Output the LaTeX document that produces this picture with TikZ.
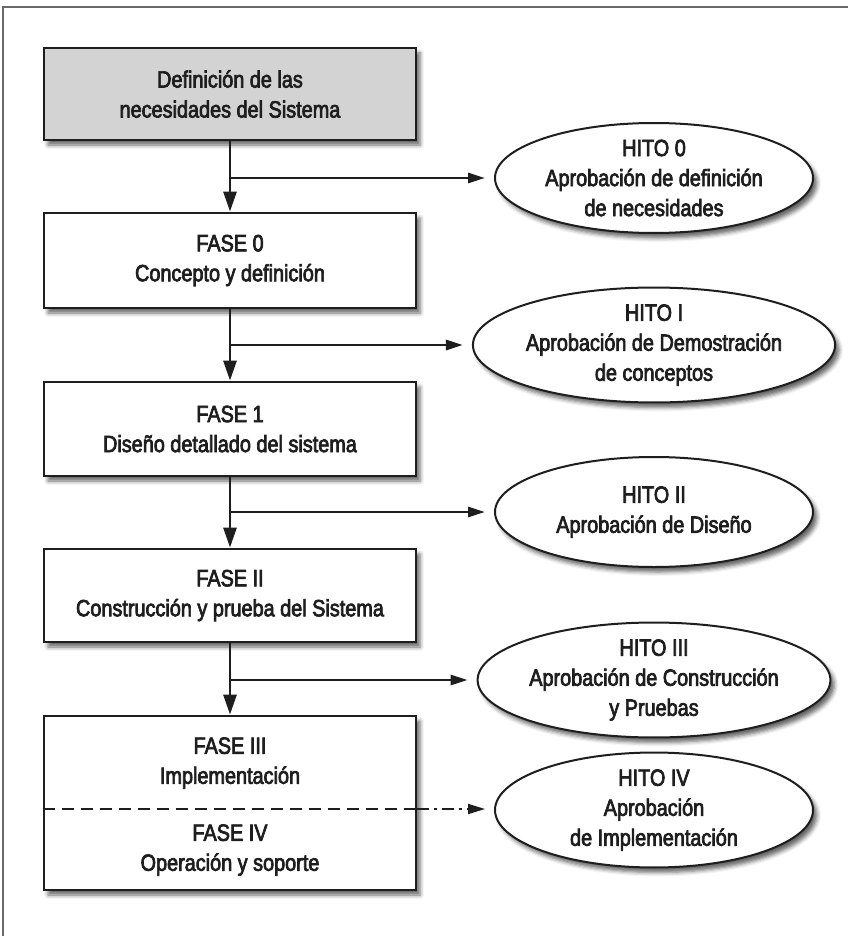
\documentclass[tikz,border=0pt]{standalone}
\usepackage{fontspec}
\setmainfont{Liberation Sans}[FakeStretch=0.845, FakeBold=3]
\usetikzlibrary{arrows.meta,shadows.blur,shapes.geometric}

\definecolor{ink}{HTML}{1E1E1E}
\definecolor{framegray}{HTML}{6A6A6A}
\definecolor{needfill}{HTML}{D3D3D3}

\tikzset{
  txt/.style={font=\fontsize{23.5}{30}\selectfont, text=ink, align=center},
  phasebox/.style={txt, draw=ink, line width=2.8pt, fill=white,
    minimum width=372pt, inner sep=0pt,
    blur shadow={shadow xshift=4pt, shadow yshift=-5pt,
      shadow blur radius=4pt, shadow opacity=60}},
  milestone/.style={txt, ellipse, draw=ink, line width=2pt, fill=white,
    minimum width=318pt, minimum height=110pt, inner sep=0pt,
    blur shadow={shadow xshift=4pt, shadow yshift=-5pt,
      shadow blur radius=4pt, shadow opacity=60}},
  flow/.style={draw=ink, line width=2.8pt,
    -{Triangle[width=13pt,length=20pt]}},
  branch/.style={draw=ink, line width=2.8pt, shorten >=9pt,
    -{Triangle[width=10pt,length=17pt]}},
  cutline/.style={draw=ink, line width=1.8pt, dash pattern=on 12pt off 7pt},
  cutbranch/.style={draw=ink, line width=1.8pt, shorten >=9pt,
    dash pattern=on 12pt off 5pt on 3pt off 5pt,
    -{Triangle[width=10pt,length=17pt]}}
}

\begin{document}
\begin{tikzpicture}[x=1pt,y=-1pt]
  \useasboundingbox (0,0) rectangle (848,936);

  % outer frame (left and top edges)
  \draw[framegray, line width=1.6pt] (3,936) -- (3,7) -- (848,7);

  % phases
  \node[phasebox, fill=needfill, minimum height=92pt] (need) at (230,94)
    {Definición de las\\necesidades del Sistema};
  \node[phasebox, minimum height=95pt] (f0) at (230,260.5)
    {FASE 0\\Concepto y definición};
  \node[phasebox, minimum height=94pt] (f1) at (230,429)
    {FASE 1\\Diseño detallado del sistema};
  \node[phasebox, minimum height=93pt] (f2) at (230,595.5)
    {FASE II\\Construcción y prueba del Sistema};
  \node[phasebox, minimum height=174pt] (f34) at (230,803) {};
  \node[txt] (f3) at (230,763) {FASE III\\Implementación};
  \node[txt] (f4) at (230,850) {FASE IV\\Operación y soporte};
  \coordinate (cut) at (230,809);

  % milestones
  \node[milestone] (h0) at (654,178) {HITO 0\\Aprobación de definición\\de necesidades};
  \node[milestone] (h1) at (654,345) {HITO I\\Aprobación de Demostración\\de conceptos};
  \node[milestone] (h2) at (654,512) {HITO II\\Aprobación de Diseño};
  \node[milestone] (h3) at (654,680) {HITO III\\Aprobación de Construcción\\y Pruebas};
  \node[milestone] (h4) at (654,810) {HITO IV\\Aprobación\\de Implementación};

  % main flow
  \draw[flow] (need.south) -- (f0.north);
  \draw[flow] (f0.south) -- (f1.north);
  \draw[flow] (f1.south) -- (f2.north);
  \draw[flow] (f2.south) -- (f34.north);

  % branches to milestones
  \draw[branch] (h0.west -| need.south) -- (h0.west);
  \draw[branch] (h1.west -| f0.south) -- (h1.west);
  \draw[branch] (h2.west -| f1.south) -- (h2.west);
  \draw[branch] (h3.west -| f2.south) -- (h3.west);

  % division between phases III and IV
  \draw[cutline] (cut -| f34.west) -- (cut -| f34.east);
  \draw[cutbranch] (cut -| f34.east) -- (cut -| h4.west);
\end{tikzpicture}
\end{document}
